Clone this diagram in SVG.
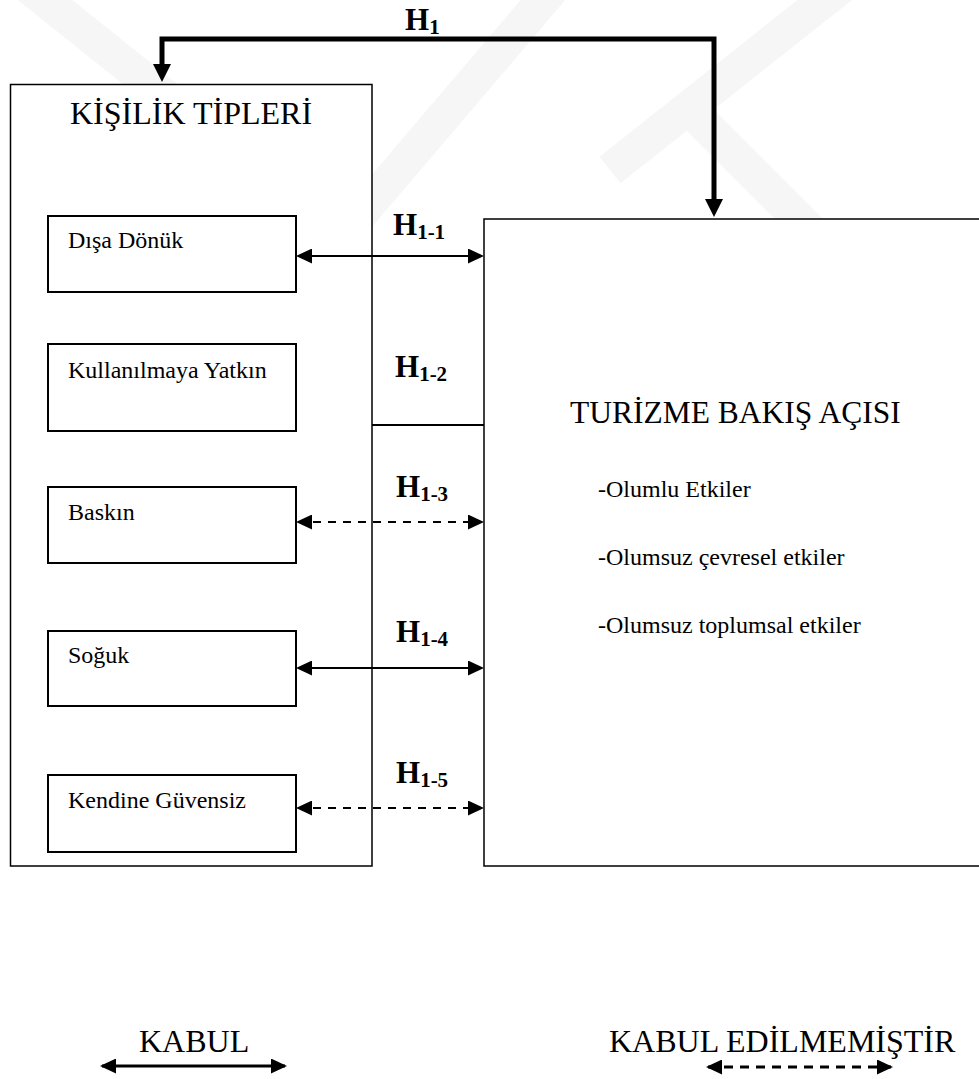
<svg xmlns="http://www.w3.org/2000/svg" width="979" height="1079" viewBox="0 0 979 1079">
<style>
.box{fill:#fff;stroke:#000;stroke-width:1.5}
.inner{fill:#fff;stroke:#000;stroke-width:2}
.t{font-family:"Liberation Serif","Times New Roman",serif;fill:#000}
.h{font-family:"Liberation Serif","Times New Roman",serif;font-weight:bold;fill:#000;font-size:31px}
.sub{font-size:21px}
.c{fill:none;stroke:#000;stroke-width:2}
.d{stroke-dasharray:8 7}
.wm{fill:none;stroke:#f6f6f6;stroke-width:34}
</style>
<defs>
<marker id="ah" markerUnits="userSpaceOnUse" viewBox="0 0 16 15" refX="14" refY="7.5" markerWidth="16" markerHeight="15" orient="auto-start-reverse">
<path d="M0,0 L16,7.5 L0,15 z" fill="#000" stroke="none"/>
</marker>
<marker id="big" markerUnits="userSpaceOnUse" viewBox="0 0 18 18" refX="8" refY="9" markerWidth="18" markerHeight="18" orient="auto-start-reverse">
<path d="M0,0 L18,9 L0,18 z" fill="#000" stroke="none"/>
</marker>
</defs>
<rect width="979" height="1079" fill="#fff"/>
<g id="watermark">
<path class="wm" d="M20,-20 L170,100"/>
<path class="wm" d="M560,-20 L330,250"/>
<path class="wm" d="M850,-20 L610,170"/>
<path class="wm" d="M690,110 L820,240"/>
</g>
<g id="kisilik">
<rect class="box" x="10.5" y="84.5" width="361.5" height="781.5"/>
<text class="t" x="70" y="124" font-size="32">KİŞİLİK TİPLERİ</text>
</g>
<g id="turizm">
<rect class="box" x="484" y="219" width="520" height="647"/>
<text class="t" x="570" y="423" font-size="31.5">TURİZME BAKIŞ AÇISI</text>
<text class="t" x="598" y="497" font-size="24">-Olumlu Etkiler</text>
<text class="t" x="598" y="565" font-size="24">-Olumsuz çevresel etkiler</text>
<text class="t" x="598" y="633" font-size="24">-Olumsuz toplumsal etkiler</text>
</g>
<g id="disa">
<rect class="inner" x="48" y="216" width="248" height="76"/>
<text class="t" x="68" y="248" font-size="24">Dışa Dönük</text>
</g>
<g id="kullanilmaya">
<rect class="inner" x="48" y="344" width="248" height="87"/>
<text class="t" x="68" y="378" font-size="24">Kullanılmaya Yatkın</text>
</g>
<g id="baskin">
<rect class="inner" x="48" y="487" width="248" height="76"/>
<text class="t" x="68" y="520" font-size="24">Baskın</text>
</g>
<g id="soguk">
<rect class="inner" x="48" y="631" width="248" height="75"/>
<text class="t" x="68" y="663" font-size="24">Soğuk</text>
</g>
<g id="kendine">
<rect class="inner" x="48" y="775" width="248" height="77"/>
<text class="t" x="68" y="808" font-size="24">Kendine Güvensiz</text>
</g>
<g id="connectors">
<path d="M162,72 V39 H714 V207" fill="none" stroke="#000" stroke-width="5" stroke-linejoin="miter" marker-start="url(#big)" marker-end="url(#big)"/>
<path class="c" d="M298,256 H482" marker-start="url(#ah)" marker-end="url(#ah)"/>
<path class="c" d="M372,425 H484"/>
<path class="c d" d="M298,522 H482" marker-start="url(#ah)" marker-end="url(#ah)"/>
<path class="c" d="M298,668 H482" marker-start="url(#ah)" marker-end="url(#ah)"/>
<path class="c d" d="M298,808 H482" marker-start="url(#ah)" marker-end="url(#ah)"/>
</g>
<g id="labels">
<text class="h" x="405" y="30">H<tspan class="sub" dy="4">1</tspan></text>
<text class="h" x="393" y="235">H<tspan class="sub" dy="4">1-1</tspan></text>
<text class="h" x="395" y="377">H<tspan class="sub" dy="4">1-2</tspan></text>
<text class="h" x="396" y="497">H<tspan class="sub" dy="4">1-3</tspan></text>
<text class="h" x="396" y="642">H<tspan class="sub" dy="4">1-4</tspan></text>
<text class="h" x="396" y="783">H<tspan class="sub" dy="4">1-5</tspan></text>
</g>
<g id="legend">
<text class="t" x="139" y="1052" font-size="32">KABUL</text>
<path d="M102,1066 H285" fill="none" stroke="#000" stroke-width="3" marker-start="url(#ah)" marker-end="url(#ah)"/>
<text class="t" x="609" y="1052" font-size="32">KABUL EDİLMEMİŞTİR</text>
<path d="M708,1067 H891" fill="none" stroke="#000" stroke-width="3" stroke-dasharray="9 7" marker-start="url(#ah)" marker-end="url(#ah)"/>
</g>
</svg>
